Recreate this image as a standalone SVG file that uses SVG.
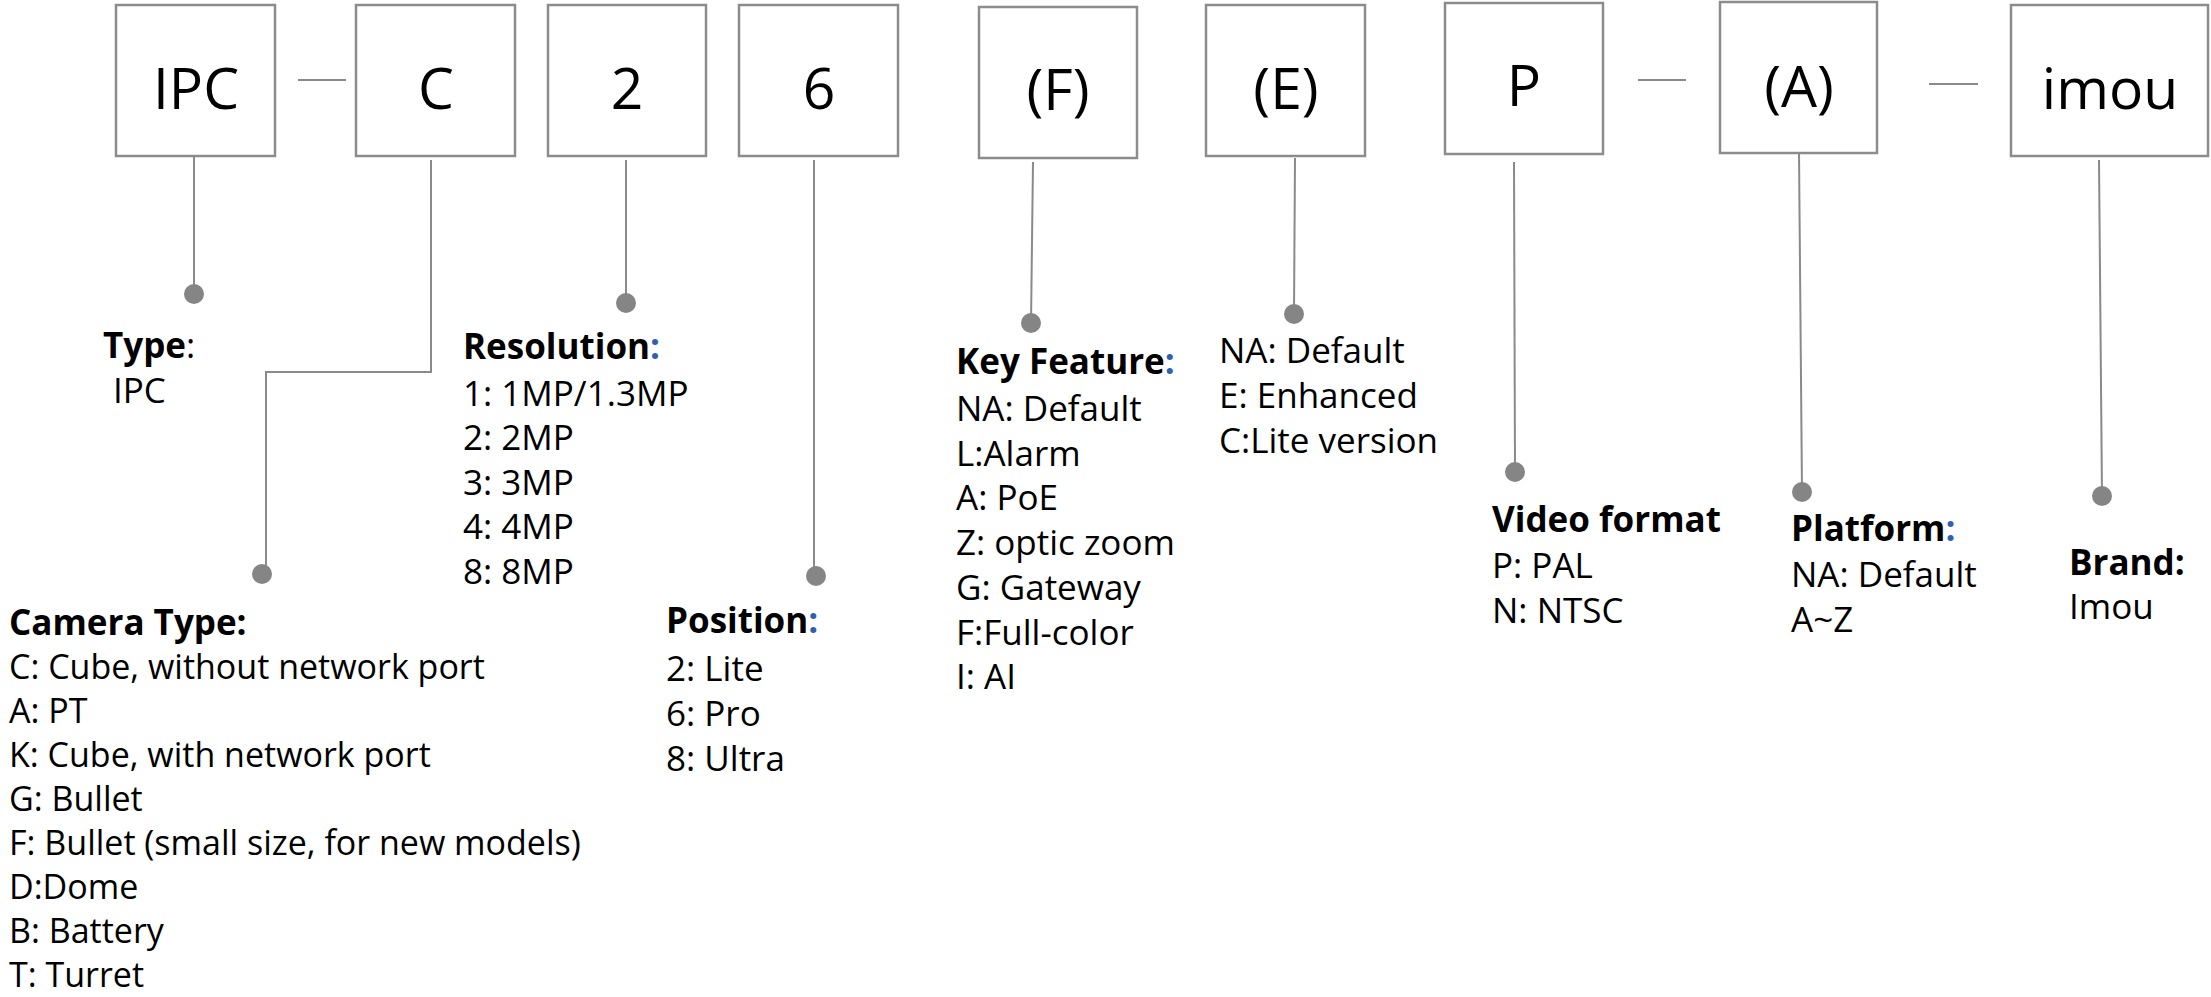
<svg xmlns="http://www.w3.org/2000/svg" width="2211" height="997" viewBox="0 0 2211 997">
<style>
.box{fill:#fff;stroke:#8c8c8c;stroke-width:2.5}
.bt{font-family:"Open Sans","Noto Sans",sans-serif;font-size:57px;fill:#000;text-anchor:middle}
.t{font-family:"Open Sans","Noto Sans",sans-serif;font-size:35px;fill:#000}
.s{font-size:34px}
.b{font-weight:bold}
.blue{fill:#2f5fb3;font-weight:bold}
.ln{stroke:#8a8a8a;stroke-width:2;fill:none}
.dot{fill:#858585}
</style>
<rect width="2211" height="997" fill="#fff"/>
<g id="connectors">
<line class="ln" x1="298" y1="80" x2="346" y2="80"/>
<line class="ln" x1="1638" y1="80" x2="1686" y2="80"/>
<line class="ln" x1="1929" y1="84" x2="1978" y2="84"/>
<path class="ln" d="M194 152 V294"/>
<path class="ln" d="M431 160 V372 H266 V573"/>
<path class="ln" d="M626 160 V303"/>
<path class="ln" d="M814 160 V576"/>
<path class="ln" d="M1033 162 L1031 323"/>
<path class="ln" d="M1295 158 L1294 314"/>
<path class="ln" d="M1514 162 L1515 472"/>
<path class="ln" d="M1799 153 L1802 492"/>
<path class="ln" d="M2099 160 L2102 496"/>
<circle class="dot" cx="194" cy="294" r="10"/>
<circle class="dot" cx="262" cy="574" r="10"/>
<circle class="dot" cx="626" cy="303" r="10"/>
<circle class="dot" cx="816" cy="576" r="10"/>
<circle class="dot" cx="1031" cy="323" r="10"/>
<circle class="dot" cx="1294" cy="314" r="10"/>
<circle class="dot" cx="1515" cy="472" r="10"/>
<circle class="dot" cx="1802" cy="492" r="10"/>
<circle class="dot" cx="2102" cy="496" r="10"/>
</g>
<g id="box-ipc"><rect class="box" x="116" y="5" width="159" height="151"/><text class="bt" x="196" y="109">IPC</text></g>
<g id="box-c"><rect class="box" x="356" y="5" width="159" height="151"/><text class="bt" x="436" y="109">C</text></g>
<g id="box-2"><rect class="box" x="548" y="5" width="158" height="151"/><text class="bt" x="627" y="109">2</text></g>
<g id="box-6"><rect class="box" x="739" y="5" width="159" height="151"/><text class="bt" x="819" y="109">6</text></g>
<g id="box-f"><rect class="box" x="979" y="7" width="158" height="151"/><text class="bt" x="1058" y="110">(F)</text></g>
<g id="box-e"><rect class="box" x="1206" y="5" width="159" height="151"/><text class="bt" x="1286" y="109">(E)</text></g>
<g id="box-p"><rect class="box" x="1445" y="3" width="158" height="151"/><text class="bt" x="1524" y="106">P</text></g>
<g id="box-a"><rect class="box" x="1720" y="2" width="157" height="151"/><text class="bt" x="1799" y="107">(A)</text></g>
<g id="box-imou"><rect class="box" x="2011" y="5" width="197" height="151"/><text class="bt" x="2110" y="109">imou</text></g>

<g id="label-type">
<text class="t" x="103" y="358"><tspan class="b">Type</tspan>:</text>
<text class="t" x="113" y="403">IPC</text>
</g>
<g id="label-camera-type">
<text class="t b" x="9" y="635">Camera Type:</text>
<text class="t s" x="9" y="679">C: Cube, without network port</text>
<text class="t s" x="9" y="723">A: PT</text>
<text class="t s" x="9" y="767">K: Cube, with network port</text>
<text class="t s" x="9" y="811">G: Bullet</text>
<text class="t s" x="9" y="855">F: Bullet (small size, for new models)</text>
<text class="t s" x="9" y="899">D:Dome</text>
<text class="t s" x="9" y="943">B: Battery</text>
<text class="t s" x="9" y="987">T: Turret</text>
</g>
<g id="label-resolution">
<text class="t" x="463" y="359"><tspan class="b">Resolution</tspan><tspan class="blue">:</tspan></text>
<text class="t" x="463" y="406">1: 1MP/1.3MP</text>
<text class="t" x="463" y="450">2: 2MP</text>
<text class="t" x="463" y="495">3: 3MP</text>
<text class="t" x="463" y="539">4: 4MP</text>
<text class="t" x="463" y="584">8: 8MP</text>
</g>
<g id="label-position">
<text class="t" x="666" y="633"><tspan class="b">Position</tspan><tspan class="blue">:</tspan></text>
<text class="t" x="666" y="681">2: Lite</text>
<text class="t" x="666" y="726">6: Pro</text>
<text class="t" x="666" y="771">8: Ultra</text>
</g>
<g id="label-key-feature">
<text class="t" x="956" y="374"><tspan class="b">Key Feature</tspan><tspan class="blue">:</tspan></text>
<text class="t" x="956" y="421">NA: Default</text>
<text class="t" x="956" y="466">L:Alarm</text>
<text class="t" x="956" y="510">A: PoE</text>
<text class="t" x="956" y="555">Z: optic zoom</text>
<text class="t" x="956" y="600">G: Gateway</text>
<text class="t" x="956" y="645">F:Full-color</text>
<text class="t" x="956" y="689">I: AI</text>
</g>
<g id="label-e">
<text class="t" x="1219" y="363">NA: Default</text>
<text class="t" x="1219" y="408">E: Enhanced</text>
<text class="t" x="1219" y="453">C:Lite version</text>
</g>
<g id="label-video-format">
<text class="t b" x="1492" y="532">Video format</text>
<text class="t" x="1492" y="578">P: PAL</text>
<text class="t" x="1492" y="623">N: NTSC</text>
</g>
<g id="label-platform">
<text class="t" x="1791" y="541"><tspan class="b">Platform</tspan><tspan class="blue">:</tspan></text>
<text class="t" x="1791" y="587">NA: Default</text>
<text class="t" x="1791" y="632">A~Z</text>
</g>
<g id="label-brand">
<text class="t b" x="2069" y="575">Brand:</text>
<text class="t" x="2069" y="619">Imou</text>
</g>
</svg>
